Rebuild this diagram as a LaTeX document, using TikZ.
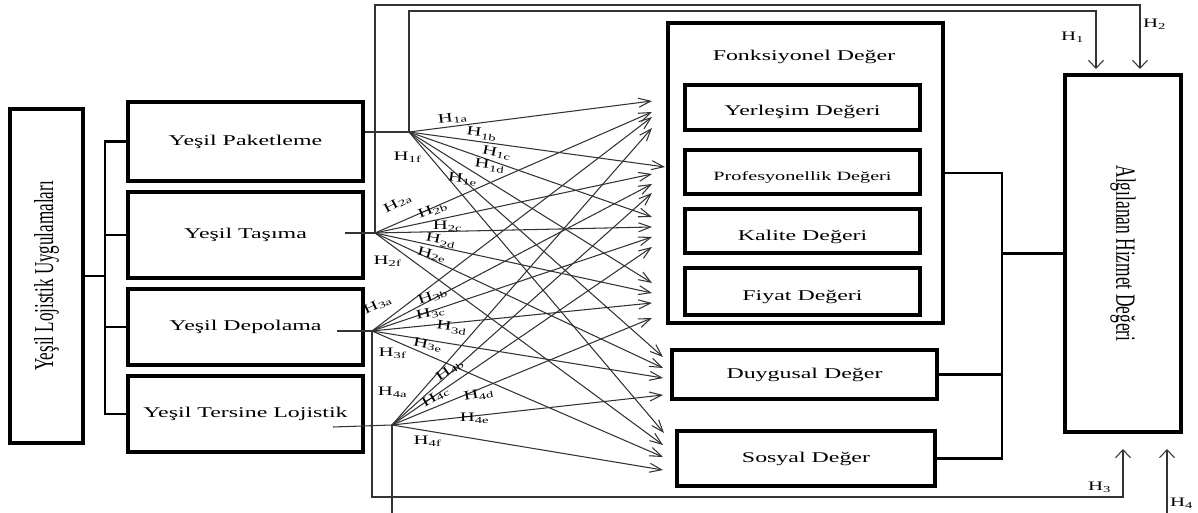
\documentclass[tikz,border=0pt]{standalone}
\usepackage{fontspec}
\setmainfont{Liberation Serif}
\usepackage{graphicx}
\usetikzlibrary{arrows.meta}
\newcommand{\hs}[1]{\scalebox{1.6}[1]{#1}}
\newcommand{\hlab}[1]{\scalebox{1.6}[1]{\fontsize{7.4}{9}\selectfont H\textsubscript{#1}}}
\begin{document}
\begin{tikzpicture}[x=0.02cm,y=-0.02cm,
  box/.style={draw=black, line width=1.8pt, inner sep=0pt, font=\fontsize{8.5}{10}\selectfont},
  txt/.style={inner sep=0pt, font=\fontsize{8.5}{10}\selectfont},
  thinl/.style={draw=black!80, line width=0.6pt},
  arr/.style={thinl, -{Straight Barb[length=2.4mm,width=1.8mm]}},
  varr/.style={thinl, -{Straight Barb[length=1.6mm,width=3mm]}},
  tree/.style={draw=black, line width=1.5pt},
  hl/.style={inner sep=0pt}
]
\useasboundingbox (0,0) rectangle (1198,513);

% left column
\node[box, minimum width=1.46cm, minimum height=6.68cm] (L) at (46.5,276)
  {\rotatebox{90}{\fontsize{9.7}{11}\selectfont\scalebox{1}[1.6]{Yeşil Lojistik Uygulamaları}}};
\node[box, minimum width=4.7cm, minimum height=1.58cm] (pak) at (245.5,141.5) {\hs{Yeşil Paketleme}};
\node[box, minimum width=4.7cm, minimum height=1.72cm] (tas) at (245.5,235) {\hs{Yeşil Taşıma}};
\node[box, minimum width=4.7cm, minimum height=1.52cm] (dep) at (245.5,327) {\hs{Yeşil Depolama}};
\node[box, minimum width=4.7cm, minimum height=1.52cm] (ter) at (245.5,414) {\hs{Yeşil Tersine Lojistik}};

% right column
\node[box, minimum width=5.5cm, minimum height=6.0cm] (fon) at (805.5,173) {};
\node[txt] (fontitle) at (804,57) {\hs{Fonksiyonel Değer}};
\node[box, minimum width=4.7cm, minimum height=0.9cm] (yer) at (802.5,107.5) {};
\node[box, minimum width=4.7cm, minimum height=0.88cm] (pro) at (802.5,172) {};
\node[box, minimum width=4.7cm, minimum height=0.88cm] (kal) at (802.5,231) {};
\node[box, minimum width=4.7cm, minimum height=0.94cm] (fiy) at (802.5,291.5) {};
\node[txt] (yert) at (802.5,112) {\hs{Yerleşim Değeri}};
\node[txt, font=\fontsize{7.2}{9}\selectfont] (prot) at (802.5,177) {\hs{Profesyonellik Değeri}};
\node[txt] (kalt) at (802.5,237) {\hs{Kalite Değeri}};
\node[txt] (fiyt) at (802.5,297) {\hs{Fiyat Değeri}};
\node[box, minimum width=5.3cm, minimum height=0.98cm] (duy) at (804.5,374.5) {\hs{Duygusal Değer}};
\node[box, minimum width=5.16cm, minimum height=1.1cm] (sos) at (806,458.5) {\hs{Sosyal Değer}};
\node[box, minimum width=2.32cm, minimum height=7.14cm] (alg) at (1123,253.5)
  {\rotatebox{-90}{\fontsize{9.9}{11}\selectfont\scalebox{1}[1.6]{Algılanan Hizmet Değeri}}};

% left tree
\coordinate (tr) at (105,276);
\draw[tree] (L.east) -- (tr);
\draw[tree] (pak.west) -| (tr) |- (ter.west);
\draw[tree] (tas.west) -- (tas.west -| tr);
\draw[tree] (dep.west) -- (dep.west -| tr);

% right tree
\coordinate (j1) at (1002,173);
\coordinate (j2) at (1002,253.5);
\draw[tree] (fon.east) -- (j1) -- (j2) -- (alg.west);
\draw[tree] (j2) |- (sos.east);
\draw[tree] (duy.east) -- (duy.east -| j2);

% hubs
\coordinate (P1) at (409,132);
\coordinate (P2) at (375,233);
\coordinate (P3) at (372,331);
\coordinate (P4) at (392,425);
\coordinate (s2) at (345,233);
\coordinate (s3) at (337,331);
\coordinate (s4) at (333,427);
\draw[thinl] (pak.east |- P1) -- (P1);
\draw[thinl] (s2) -- (P2);
\draw[thinl] (s3) -- (P3);
\draw[thinl] (s4) -- (P4);

% targets
\coordinate (t1a) at (652,101); \coordinate (t1b) at (665,167);
\coordinate (t1c) at (652,217); \coordinate (t1d) at (652,283);
\coordinate (t1e) at (663,357); \coordinate (t1f) at (664,433);
\coordinate (t2a) at (652,112); \coordinate (t2b) at (652,174);
\coordinate (t2c) at (652,227); \coordinate (t2d) at (652,293);
\coordinate (t2e) at (663,368); \coordinate (t2f) at (663,445);
\coordinate (t3a) at (652,117); \coordinate (t3b) at (652,184);
\coordinate (t3c) at (652,237); \coordinate (t3d) at (652,303);
\coordinate (t3e) at (663,378); \coordinate (t3f) at (663,457);
\coordinate (t4a) at (652,128); \coordinate (t4b) at (652,193);
\coordinate (t4c) at (652,247); \coordinate (t4d) at (652,318);
\coordinate (t4e) at (663,395); \coordinate (t4f) at (663,470);

\foreach \h in {1,2,3,4}{
  \foreach \k in {a,b,c,d,e,f}{
    \draw[arr] (P\h) -- (t\h\k);
  }
}

% loops to Algilanan
\coordinate (k1) at (1096,11);   \coordinate (e1) at (1096,69);
\coordinate (k2) at (1140,5);    \coordinate (e2) at (1140,69);
\coordinate (k3) at (1123,497);  \coordinate (e3) at (1123,449);
\coordinate (b3) at (392,513);
\coordinate (b4) at (1167,513);  \coordinate (e4) at (1167,449);
\draw[varr] (P1) |- (k1) -- (e1);
\draw[varr] (P2) |- (k2) -- (e2);
\draw[varr] (P3) |- (k3) -- (e3);
\draw[thinl] (P4) -- (b3);
\draw[varr] (b4) -- (e4);

% labels
\node[hl, rotate=7]   (l1a) at (453,118) {\hlab{1a}};
\node[hl, rotate=-8]  (l1b) at (482,134) {\hlab{1b}};
\node[hl, rotate=-12] (l1c) at (497,153) {\hlab{1c}};
\node[hl, rotate=-8]  (l1d) at (490,166) {\hlab{1d}};
\node[hl, rotate=-8]  (l1e) at (463,179) {\hlab{1e}};
\node[hl]             (l1f) at (408,157) {\hlab{1f}};
\node[hl, rotate=28]  (l2a) at (398,203) {\hlab{2a}};
\node[hl, rotate=22]  (l2b) at (433,210) {\hlab{2b}};
\node[hl]             (l2c) at (448,226) {\hlab{2c}};
\node[hl, rotate=-12] (l2d) at (441,241) {\hlab{2d}};
\node[hl, rotate=-15] (l2e) at (432,255) {\hlab{2e}};
\node[hl]             (l2f) at (388,261) {\hlab{2f}};
\node[hl, rotate=25]  (l3a) at (378,305) {\hlab{3a}};
\node[hl, rotate=20]  (l3b) at (433,296) {\hlab{3b}};
\node[hl, rotate=12]  (l3c) at (431,313) {\hlab{3c}};
\node[hl, rotate=-8]  (l3d) at (452,328) {\hlab{3d}};
\node[hl, rotate=-12] (l3e) at (428,345) {\hlab{3e}};
\node[hl]             (l3f) at (393,353) {\hlab{3f}};
\node[hl]             (l4a) at (393,392) {\hlab{4a}};
\node[hl, rotate=35]  (l4b) at (450,370) {\hlab{4b}};
\node[hl, rotate=30]  (l4c) at (436,397) {\hlab{4c}};
\node[hl, rotate=10]  (l4d) at (479,395) {\hlab{4d}};
\node[hl]             (l4e) at (475,418) {\hlab{4e}};
\node[hl]             (l4f) at (428,441) {\hlab{4f}};
\node[hl] (lH1) at (1073,37) {\hlab{1}};
\node[hl] (lH2) at (1155,24) {\hlab{2}};
\node[hl] (lH3) at (1100,487) {\hlab{3}};
\node[hl] (lH4) at (1182,503) {\hlab{4}};
\end{tikzpicture}
\end{document}
